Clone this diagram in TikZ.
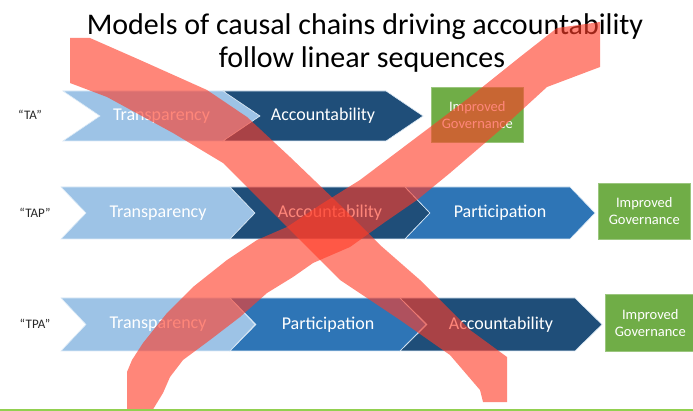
\documentclass[tikz,border=0pt]{standalone}
\usepackage{fontspec}
\setmainfont{Carlito}
\definecolor{lblue}{HTML}{9DC3E6}
\definecolor{dblue}{HTML}{1F4E79}
\definecolor{mblue}{HTML}{2E75B6}
\definecolor{ggreen}{HTML}{70AD47}
\definecolor{lgreen}{HTML}{92D050}
\definecolor{xred}{RGB}{255,60,40}
\definecolor{edge}{HTML}{DDEBF7}
\newcommand\mychev[8]{%
  \path[chevshape,fill=#7] (#2,#4) -- (#3,#4) -- ({#3+#6},{(#4+#5)/2}) -- (#3,#5) -- (#2,#5) -- ({#2+#6},{(#4+#5)/2}) -- cycle;
  \node[chevtext] (#1) at ({(#2+#3)/2+#6/2},{(#4+#5)/2}) {#8};
}
\begin{document}
\begin{tikzpicture}[x=1pt,y=-1pt,
  chevshape/.style={draw=edge,line width=0.6pt},
  chevtext/.style={text=white,font=\fontsize{18}{20}\selectfont,inner sep=0pt},
  govbox/.style={fill=ggreen,draw=ggreen!70!white,line width=0.6pt,text=white,align=center,
    font=\fontsize{14.5}{17}\selectfont,inner sep=0pt,anchor=north west},
  rowlabel/.style={text=black!85,font=\fontsize{13}{15}\selectfont,inner sep=0pt},
  title/.style={text=black,font=\fontsize{30}{33}\selectfont,align=center,inner sep=0pt},
  xstroke/.style={fill=xred,fill opacity=0.62,draw=none}]
\useasboundingbox (0,0) rectangle (693,411);
\fill[white] (0,0) rectangle (693,411);

% title
\node[title,anchor=base] (t1) at (365,35) {Models of causal chains driving accountability};
\node[title,anchor=base] (t2) at (362,68) {follow linear sequences};

% row labels
\node[rowlabel] (lta) at (30,115) {“TA”};
\node[rowlabel] (ltap) at (35,213) {“TAP”};
\node[rowlabel] (ltpa) at (35,324) {“TPA”};

% row 1
\mychev{r1a}{63}{223}{91}{141}{37}{lblue}{Transparency}
\mychev{r1b}{223}{386}{91}{141}{37}{dblue}{Accountability}
\node[govbox,minimum width=92pt,minimum height=55pt] (g1) at (431,87) {Improved\\Governance};

% row 2
\mychev{r2a}{61}{230}{187}{239}{25}{lblue}{Transparency}
\mychev{r2b}{230}{405}{187}{239}{25}{dblue}{Accountability}
\mychev{r2c}{405}{570}{187}{239}{25}{mblue}{Participation}
\node[govbox,minimum width=92pt,minimum height=56pt] (g2) at (598,183) {Improved\\Governance};

% row 3
\mychev{r3a}{61}{230}{298}{351}{25}{lblue}{Transparency}
\mychev{r3b}{230}{400}{298}{351}{26}{mblue}{Participation}
\mychev{r3c}{400}{575}{298}{351}{27}{dblue}{Accountability}
\node[govbox,minimum width=90pt,minimum height=57pt] (g3) at (605,294) {Improved\\Governance};

% red X
\path[xstroke] (70,38) -- (90,38) -- (140,60) -- (207,90) -- (247,117) -- (290,157) -- (340,205)
  -- (380,245) -- (420,280) -- (470,330) -- (507,357) -- (507,402) -- (483,402) -- (480,390)
  -- (450,355) -- (400,320) -- (340,280) -- (300,240) -- (270,210) -- (223,163) -- (173,133)
  -- (107,97) -- (70,83) -- cycle;
\path[xstroke] (557,28) -- (600,22) -- (600,67) -- (547,87) -- (500,130) -- (450,173) -- (417,200)
  -- (385,222) -- (350,247) -- (313,263) -- (293,277) -- (267,293) -- (240,317) -- (210,340)
  -- (183,360) -- (170,377) -- (163,393) -- (152,411) -- (127,411) -- (127,372) -- (132,360)
  -- (143,343) -- (167,313) -- (193,287) -- (227,260) -- (257,240) -- (287,227) -- (320,205)
  -- (360,180) -- (417,137) -- (470,97) -- (520,57) -- cycle;

% bottom line
\fill[lgreen] (0,408.5) rectangle (693,411);
\end{tikzpicture}
\end{document}
